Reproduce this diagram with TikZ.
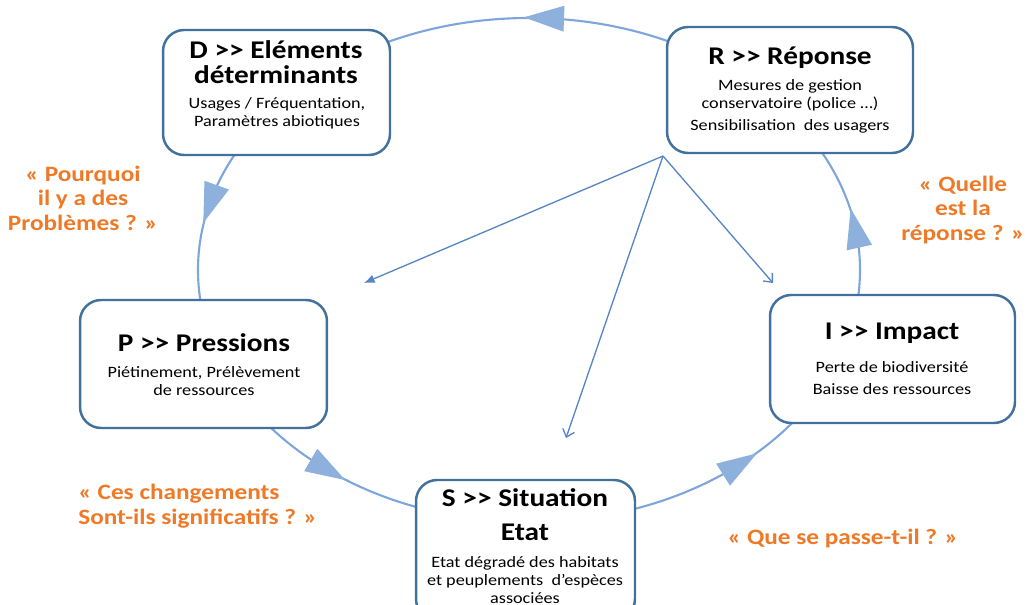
\documentclass[tikz,border=0pt]{standalone}
\usepackage{fontspec}
\setmainfont{Carlito}[FakeStretch=1.15]
\usetikzlibrary{arrows.meta}
\definecolor{boxblue}{HTML}{41719C}
\definecolor{cyc}{HTML}{7EA6DC}
\definecolor{tri}{HTML}{8DB0DD}
\definecolor{thinblue}{HTML}{5585C5}
\definecolor{orng}{HTML}{EE7A28}
\newcommand{\dblgt}{>{}>}
\begin{document}
\begin{tikzpicture}[x=0.02cm,y=-0.02cm,
  box/.style={draw=boxblue, line width=1.4pt, fill=white, rounded corners=12pt, inner sep=0pt},
  ttl/.style={font=\fontsize{14.5}{14.5}\selectfont\bfseries, align=center, inner sep=0pt},
  bdy/.style={font=\fontsize{9}{10}\selectfont, align=center, inner sep=0pt},
  qst/.style={font=\fontsize{12.5}{14}\selectfont\bfseries, text=orng, align=center, inner sep=0pt},
  cycline/.style={draw=cyc, line width=1.2pt},
  trihead/.style={fill=tri},
  ray/.style={draw=thinblue, line width=0.75pt}]
\useasboundingbox (0,0) rectangle (1028,605);
\fill[white] (0,0) rectangle (1028,605);

% cycle
\draw[cycline] (529,270) ellipse [x radius=331, y radius=252];
\fill[trihead, shift={(544,18)}, rotate=178] (20,0) -- (-20,13) -- (-20,-13) -- cycle;
\fill[trihead, shift={(210,204)}, rotate=250.4] (20,0) -- (-20,13) -- (-20,-13) -- cycle;
\fill[trihead, shift={(328,470)}, rotate=-30.2] (20,0) -- (-20,13) -- (-20,-13) -- cycle;
\fill[trihead, shift={(740,464)}, rotate=32.2] (20,0) -- (-20,13) -- (-20,-13) -- cycle;
\fill[trihead, shift={(855,228)}, rotate=102.5] (20,0) -- (-20,13) -- (-20,-13) -- cycle;

% boxes
\node[box, minimum width=4.54cm, minimum height=2.5cm] (D) at (276.5,92.5) {};
\node[box, minimum width=4.92cm, minimum height=2.52cm] (R) at (790,90) {};
\node[box, minimum width=4.94cm, minimum height=2.56cm] (P) at (203.5,364) {};
\node[box, minimum width=4.9cm, minimum height=2.56cm] (I) at (892.5,359) {};
\node[box, minimum width=4.38cm, minimum height=2.8cm] (S) at (525.5,550) {};

% texts
\node[ttl] (Dt) at (276,62) {D \dblgt{} Eléments\\déterminants};
\node[bdy] (Db) at (277,113) {Usages / Fréquentation,\\Paramètres abiotiques};
\node[ttl] (Rt) at (790,58) {R \dblgt{} Réponse};
\node[bdy] (Rb) at (790,95) {Mesures de gestion\\conservatoire (police …)};
\node[bdy] (Rc) at (790,126) {Sensibilisation\ \ des usagers};
\node[ttl] (Pt) at (204,343) {P \dblgt{} Pressions};
\node[bdy] (Pb) at (204,381) {Piétinement,\ Prélèvement\\de ressources};
\node[ttl] (It) at (892,333) {I \dblgt{} Impact};
\node[bdy] (Ib) at (892,367) {Perte de biodiversité};
\node[bdy] (Ic) at (892,389) {Baisse des ressources};
\node[ttl] (St) at (525,498) {S \dblgt{} Situation};
\node[ttl] (Se) at (525,532) {Etat};
\node[bdy] (Sb) at (525,580) {Etat dégradé des habitats\\et peuplements\ \ d’espèces\\associées};

% questions
\node[qst] (q1) at (83,198) {« Pourquoi\\il y a des\\Problèmes ? »};
\node[qst] (q2) at (963,210) {« Quelle\\est la\\réponse ? »};
\node[qst, align=left, anchor=west] (q3) at (78,506) {« Ces changements\\Sont-ils significatifs ? »};
\node[qst] (q4) at (843,539) {« Que se passe-t-il ? »};

% rays from R
\coordinate (src) at (663,156);
\coordinate (eP) at (364,283);
\coordinate (eS) at (566,438);
\coordinate (eI) at (773,283);
\draw[ray, -{Latex[length=6pt,width=5pt]}] (src) -- (eP);
\draw[ray, -{Straight Barb[length=4pt,width=7pt]}] (src) -- (eS);
\draw[ray, -{Straight Barb[length=4pt,width=7pt]}] (src) -- (eI);
\end{tikzpicture}
\end{document}
